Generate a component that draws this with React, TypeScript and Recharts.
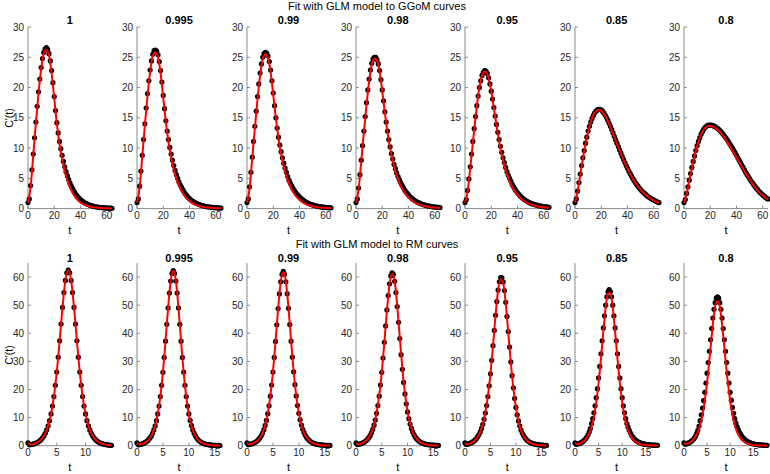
import React from 'react';
import { ComposedChart, Line, XAxis, YAxis } from 'recharts';

// ---------- labels ----------
const panelTitles = ['1', '0.995', '0.99', '0.98', '0.95', '0.85', '0.8'];
const topSuptitle = 'Fit with GLM model to GGoM curves';
const botSuptitle = 'Fit with GLM model to RM curves';
const yLabel = "C'(t)";
const xLabel = 't';
const topYTicks = [0, 5, 10, 15, 20, 25, 30];
const topXTicks = [0, 20, 40, 60];
const botYTicks = [0, 10, 20, 30, 40, 50, 60];
const botXTicksFirst = [0, 5, 10];
const botXTicks = [0, 5, 10, 15];
const botXMax = [14.6, 16.2, 16.2, 16.3, 16.5, 17.8, 18.2];

// ---------- time grids ----------
const tTop = [0,1,2,3,4,5,6,7,8,9,10,11,12,13,14,15,16,17,18,19,20,21,22,23,24,25,26,27,28,29,30,31,32,33,34,35,36,37,38,39,40,41,42,43,44,45,46,47,48,49,50,51,52,53,54,55,56,57,58,59,60,61,62,63,64];
const tTopFit = [0,2,4,6,8,10,12,14,16,18,20,22,24,26,28,30,32,34,36,38,40,42,44,46,48,50,52,54,56,58,60,62,64];
const tBot = [0,0.25,0.5,0.75,1,1.25,1.5,1.75,2,2.25,2.5,2.75,3,3.25,3.5,3.75,4,4.25,4.5,4.75,5,5.25,5.5,5.75,6,6.25,6.5,6.75,7,7.25,7.5,7.75,8,8.25,8.5,8.75,9,9.25,9.5,9.75,10,10.25,10.5,10.75,11,11.25,11.5,11.75,12,12.25,12.5,12.75,13,13.25,13.5,13.75,14,14.25,14.5,14.75,15,15.25,15.5,15.75,16,16.25,16.5,16.75,17,17.25,17.5,17.75,18];
const tBotFit = [0,0.5,1,1.5,2,2.5,3,3.5,4,4.5,5,5.5,6,6.5,7,7.5,8,8.5,9,9.5,10,10.5,11,11.5,12,12.5,13,13.5,14,14.5,15,15.5,16,16.5,17,17.5,18];

// ---------- top row (GGoM curves) ----------
const topDots1 = [1.0,1.6,3.8,6.4,9.0,11.7,14.3,16.9,19.3,21.4,23.3,24.8,25.8,26.4,26.6,26.3,25.6,24.4,22.8,20.8,18.5,16.2,14.2,12.5,11.1,9.9,8.8,7.8,6.9,6.1,5.4,4.8,4.2,3.7,3.3,2.9,2.5,2.2,1.95,1.7,1.5,1.3,1.15,1.0,0.88,0.77,0.67,0.58,0.5,0.44,0.38,0.33,0.29,0.25,0.22,0.19,0.17,0.15,0.13,0.11,0.1,0.09,0.08,0.07,0.06];
const topDots2 = [1.0,1.6,3.7,6.2,8.8,11.4,14.0,16.6,19.0,21.1,22.9,24.4,25.5,26.1,26.2,26.0,25.4,24.3,22.8,20.9,18.7,16.5,14.5,12.8,11.4,10.1,9.0,8.0,7.1,6.3,5.6,5.0,4.4,3.9,3.5,3.1,2.7,2.4,2.1,1.85,1.65,1.45,1.3,1.15,1.0,0.9,0.8,0.7,0.62,0.55,0.48,0.43,0.38,0.33,0.29,0.26,0.23,0.2,0.18,0.16,0.14,0.12,0.11,0.1,0.09];
const topDots3 = [1.0,1.6,3.6,6.0,8.5,11.1,13.6,16.1,18.5,20.6,22.4,23.9,25.0,25.6,25.8,25.7,25.2,24.3,22.9,21.1,19.1,17.0,15.0,13.3,11.8,10.5,9.4,8.4,7.5,6.7,6.0,5.3,4.7,4.2,3.8,3.4,3.0,2.7,2.4,2.15,1.9,1.7,1.52,1.36,1.2,1.07,0.96,0.85,0.76,0.68,0.6,0.54,0.48,0.43,0.38,0.34,0.3,0.27,0.24,0.21,0.19,0.17,0.15,0.14,0.12];
const topDots4 = [1.0,1.6,3.4,5.6,8.0,10.4,12.8,15.2,17.5,19.6,21.4,22.9,24.0,24.7,25.0,25.0,24.6,23.9,22.8,21.3,19.6,17.8,16.0,14.3,12.8,11.4,10.2,9.1,8.2,7.3,6.6,5.9,5.3,4.8,4.3,3.9,3.5,3.1,2.8,2.5,2.25,2.0,1.8,1.62,1.45,1.3,1.17,1.05,0.94,0.85,0.76,0.68,0.61,0.55,0.49,0.44,0.4,0.36,0.32,0.29,0.26,0.23,0.21,0.19,0.17];
const topDots5 = [1.0,1.5,3.0,4.9,6.9,9.0,11.1,13.2,15.2,17.0,18.6,20.0,21.1,22.0,22.5,22.8,22.7,22.3,21.6,20.6,19.4,18.1,16.7,15.3,13.9,12.6,11.4,10.3,9.3,8.4,7.6,6.8,6.1,5.5,5.0,4.5,4.0,3.6,3.25,2.9,2.6,2.35,2.1,1.9,1.7,1.53,1.38,1.24,1.12,1.0,0.9,0.81,0.73,0.66,0.6,0.54,0.49,0.44,0.4,0.36,0.33,0.3,0.27,0.25,0.22];
const topDots6 = [1.0,1.6,2.9,4.3,5.7,7.1,8.4,9.6,10.8,11.8,12.8,13.6,14.3,14.9,15.4,15.8,16.1,16.3,16.4,16.4,16.3,16.1,15.8,15.45,15.05,14.6,14.1,13.6,13.05,12.5,11.9,11.35,10.8,10.25,9.7,9.15,8.6,8.1,7.6,7.1,6.65,6.2,5.8,5.4,5.0,4.65,4.3,4.0,3.7,3.4,3.15,2.9,2.7,2.5,2.3,2.1,1.95,1.8,1.65,1.52,1.4,1.29,1.18,1.09,1.0];
const topDots7 = [1.0,1.5,2.5,3.6,4.7,5.8,6.8,7.8,8.7,9.6,10.4,11.1,11.7,12.3,12.7,13.1,13.4,13.6,13.75,13.8,13.8,13.78,13.72,13.62,13.5,13.35,13.17,12.97,12.75,12.5,12.23,11.95,11.65,11.33,11.0,10.66,10.3,9.95,9.58,9.2,8.8,8.4,8.0,7.6,7.2,6.8,6.4,6.0,5.65,5.3,4.95,4.6,4.3,4.0,3.7,3.42,3.16,2.9,2.67,2.45,2.25,2.06,1.88,1.72,1.57];

const topFit1 = [1.0,3.6,8.8,14.1,19.0,23.0,25.6,26.2,25.3,22.4,18.2,14.0,10.7,8.2,6.2,4.7,3.5,2.6,1.9,1.4,1.0,0.75,0.55,0.4,0.3,0.22,0.16,0.12,0.09,0.07,0.05,0.04,0.03];
const topFit2 = [1.0,3.5,8.6,13.8,18.6,22.6,25.2,25.8,25.0,22.3,18.3,14.3,11.0,8.5,6.5,5.0,3.8,2.9,2.2,1.65,1.25,0.95,0.7,0.53,0.4,0.3,0.23,0.17,0.13,0.1,0.08,0.06,0.05];
const topFit3 = [1.0,3.4,8.3,13.3,18.0,22.0,24.7,25.5,24.9,22.5,18.8,14.9,11.6,9.0,7.0,5.4,4.2,3.2,2.5,1.9,1.45,1.1,0.85,0.65,0.5,0.38,0.29,0.22,0.17,0.13,0.1,0.08,0.06];
const topFit4 = [1.0,3.2,7.8,12.6,17.1,21.0,23.8,24.8,24.5,22.6,19.4,15.8,12.6,10.0,7.9,6.2,4.9,3.8,3.0,2.35,1.85,1.45,1.13,0.88,0.69,0.54,0.42,0.33,0.26,0.2,0.16,0.12,0.1];
const topFit5 = [1.0,2.8,6.7,10.9,15.0,18.6,21.2,22.5,22.6,21.5,19.4,16.6,13.7,11.1,8.9,7.1,5.7,4.5,3.6,2.85,2.25,1.8,1.42,1.12,0.89,0.7,0.56,0.44,0.35,0.28,0.22,0.17,0.14];
const topFit6 = [1.0,2.8,5.6,8.3,10.7,12.7,14.3,15.5,16.1,16.3,16.1,15.6,14.9,14.0,12.9,11.8,10.7,9.6,8.5,7.5,6.6,5.7,4.95,4.25,3.65,3.1,2.65,2.25,1.9,1.6,1.35,1.13,0.95];
const topFit7 = [1.0,2.4,4.6,6.7,8.6,10.3,11.7,12.7,13.3,13.6,13.65,13.55,13.3,12.95,12.5,11.95,11.3,10.6,9.9,9.2,8.45,7.7,6.95,6.2,5.5,4.8,4.15,3.55,3.0,2.55,2.15,1.8,1.5];

// ---------- bottom row (RM curves) ----------
const botDots1 = [1.0,0.29,0.38,0.48,0.62,0.8,1.02,1.31,1.66,2.13,2.72,3.46,4.4,5.6,7.1,8.9,11.3,14.1,17.5,21.5,26.2,31.5,37.3,43.3,49.2,54.5,58.8,61.5,62.5,61.5,58.8,54.5,49.2,43.3,37.3,31.5,26.2,21.5,17.5,14.1,11.3,8.9,7.1,5.6,4.4,3.46,2.72,2.13,1.66,1.31,1.02,0.8,0.62,0.48,0.38,0.29,0.23,0.18,0.14];
const botDots2 = [1.0,0.32,0.41,0.52,0.66,0.84,1.06,1.35,1.7,2.16,2.75,3.48,4.4,5.6,7.1,8.9,11.3,14.1,17.5,21.5,26.1,31.4,37.2,43.2,49.0,54.3,58.6,61.3,62.3,61.3,58.6,54.3,49.0,43.2,37.2,31.4,26.2,21.5,17.5,14.1,11.3,9.0,7.2,5.7,4.5,3.55,2.8,2.2,1.75,1.38,1.09,0.86,0.68,0.54,0.43,0.35,0.28,0.23,0.19,0.16,0.13,0.11,0.09,0.08,0.07];
const botDots3 = [1.0,0.35,0.44,0.56,0.7,0.88,1.1,1.4,1.76,2.22,2.82,3.55,4.5,5.7,7.2,9.0,11.4,14.2,17.6,21.6,26.2,31.4,37.1,43.0,48.8,54.0,58.3,61.0,62.0,61.0,58.3,54.1,48.9,43.1,37.2,31.5,26.3,21.7,17.7,14.3,11.5,9.2,7.35,5.85,4.65,3.7,2.95,2.35,1.87,1.49,1.19,0.95,0.76,0.61,0.49,0.4,0.33,0.27,0.22,0.18,0.15,0.13,0.11,0.09,0.08];
const botDots4 = [1.0,0.38,0.48,0.6,0.75,0.94,1.17,1.47,1.84,2.3,2.9,3.65,4.6,5.8,7.3,9.1,11.5,14.3,17.6,21.6,26.1,31.2,36.8,42.6,48.3,53.4,57.6,60.4,61.5,61.0,58.5,54.5,49.5,43.9,38.1,32.4,27.2,22.5,18.4,14.9,12.0,9.6,7.7,6.15,4.9,3.92,3.13,2.5,2.0,1.6,1.29,1.04,0.84,0.68,0.55,0.45,0.37,0.3,0.25,0.21,0.17,0.14,0.12,0.1,0.09];
const botDots5 = [1.0,0.45,0.56,0.7,0.87,1.08,1.33,1.65,2.05,2.55,3.2,3.98,4.95,6.15,7.6,9.4,11.6,14.3,17.5,21.3,25.6,30.4,35.6,41.0,46.4,51.3,55.4,58.3,59.8,59.7,58.2,55.2,51.0,46.0,40.6,35.1,29.8,24.9,20.6,16.8,13.6,11.0,8.8,7.05,5.6,4.5,3.6,2.88,2.3,1.85,1.49,1.2,0.97,0.79,0.65,0.53,0.44,0.36,0.3,0.25,0.21,0.18,0.15,0.13,0.11];
const botDots6 = [1.0,0.5,0.6,0.72,0.87,1.06,1.3,1.6,2.0,2.5,3.1,3.9,4.9,6.1,7.9,9.6,11.7,14.2,17.1,20.3,24.1,28.2,32.7,37.3,41.9,46.2,50.0,53.0,54.8,55.5,54.8,53.0,50.0,46.2,41.9,37.3,32.7,28.2,24.1,20.3,17.1,14.2,11.7,9.6,7.9,6.6,5.45,4.5,3.72,3.08,2.55,2.12,1.77,1.48,1.24,1.04,0.88,0.75,0.64,0.55,0.47,0.41,0.36,0.31,0.27,0.24,0.21,0.19,0.17,0.15,0.13];
const botDots7 = [1.0,0.55,0.66,0.8,0.97,1.18,1.45,1.78,2.2,2.75,3.45,4.35,5.5,7.0,8.9,11.0,13.4,16.0,19.0,22.3,25.8,29.6,33.6,37.7,41.7,45.4,48.5,50.9,52.5,53.0,52.5,50.9,48.5,45.4,41.7,37.7,33.6,29.6,25.8,22.3,19.0,16.2,13.6,11.5,9.6,8.0,6.8,5.75,4.85,4.1,3.45,2.9,2.45,2.07,1.75,1.48,1.25,1.06,0.9,0.77,0.66,0.57,0.49,0.42,0.36,0.31,0.27,0.24,0.21,0.18,0.16,0.14,0.12];

const botFit1 = [1.0,0.38,0.62,1.02,1.66,2.72,4.4,7.1,11.3,17.5,26.2,37.3,49.2,58.8,62.5,58.8,49.2,37.3,26.2,17.5,11.3,7.1,4.4,2.72,1.66,1.02,0.62,0.38,0.23,0.14];
const botFit2 = [1.0,0.4,0.64,1.04,1.68,2.74,4.4,7.1,11.3,17.5,26.1,37.2,49.0,58.6,62.3,58.6,49.0,37.2,26.1,17.4,11.2,7.1,4.4,2.74,1.68,1.03,0.63,0.39,0.24,0.15,0.09,0.06,0.04];
const botFit3 = [1.0,0.42,0.67,1.08,1.74,2.8,4.5,7.2,11.4,17.6,26.2,37.1,48.7,58.2,61.8,58.4,49.0,37.4,26.4,17.7,11.5,7.3,4.6,2.85,1.76,1.08,0.66,0.41,0.25,0.16,0.1,0.06,0.04];
const botFit4 = [1.0,0.45,0.72,1.15,1.84,2.95,4.7,7.4,11.6,17.7,26.0,36.6,48.0,57.4,61.2,58.6,49.8,38.4,27.4,18.6,12.2,7.8,4.95,3.1,1.93,1.2,0.74,0.46,0.28,0.17,0.11,0.07,0.04];
const botFit5 = [1.0,0.5,0.8,1.27,2.0,3.15,4.95,7.7,11.8,17.7,25.6,35.6,46.4,55.3,59.2,57.8,50.6,40.2,29.5,20.4,13.5,8.7,5.5,3.45,2.15,1.34,0.83,0.52,0.32,0.2,0.13,0.08,0.05];
const botFit6 = [1.0,0.48,0.75,1.18,1.83,2.86,4.43,6.8,10.3,15.4,22.3,31.0,40.5,49.1,54.3,54.3,49.1,40.5,31.0,22.3,15.4,10.3,6.8,4.43,2.86,1.83,1.18,0.75,0.48,0.3,0.19,0.12,0.08,0.05,0.03,0.02];
const botFit7 = [1.0,0.59,0.9,1.38,2.11,3.23,4.9,7.4,10.9,16.0,22.5,30.5,39.1,46.7,51.2,51.2,46.7,39.1,30.5,22.5,16.0,10.9,7.4,4.9,3.23,2.11,1.38,0.9,0.59,0.38,0.25,0.16,0.1,0.07,0.04,0.03,0.02];

const topDots = [topDots1, topDots2, topDots3, topDots4, topDots5, topDots6, topDots7];
const topFits = [topFit1, topFit2, topFit3, topFit4, topFit5, topFit6, topFit7];
const botDots = [botDots1, botDots2, botDots3, botDots4, botDots5, botDots6, botDots7];
const botFits = [botFit1, botFit2, botFit3, botFit4, botFit5, botFit6, botFit7];

const zip = (ts: number[], vs: number[]) => vs.map((v, i) => ({ t: ts[i], v }));

// ---------- layout ----------
const FONT = '"Liberation Sans", Arial, Helvetica, sans-serif';
const AX = '#8a8a8a';
const TXT = '#262626';
const PANEL_LEFT = [27.7, 137.1, 246.5, 355.8, 465.2, 574.6, 684.0];
const PLOT_W = 84;
const TOP_Y0 = 26.7;
const TOP_H = 181.6;
const BOT_Y0 = 263.3;
const BOT_H = 182.7;
const YW = 30;
const XH = 20;
const MT = 6;
const MR = 6;

const DotShape = (p: any) =>
  p.cx == null || p.cy == null ? <g key={p.key} /> : <circle key={p.key} cx={p.cx} cy={p.cy} r={2.6} fill="#000" stroke="none" />;

function Panel(props: {
  left: number; top: number; plotH: number; xMax: number; xTicks: number[];
  yMax: number; yTicks: number[]; dots: any[]; fit: any[];
}) {
  const { left, top, plotH, xMax, xTicks, yMax, yTicks, dots, fit } = props;
  const W = YW + PLOT_W + MR;
  const H = MT + plotH + XH;
  const box: React.CSSProperties = { position: 'absolute', left: left - YW, top: top - MT, width: W, height: H };
  return (
    <>
      <div style={box}>
        <ComposedChart width={W} height={H} margin={{ top: MT, right: MR, bottom: 0, left: 0 }}>
          <XAxis xAxisId="b" type="number" dataKey="t" domain={[0, xMax]} ticks={xTicks} interval={0}
            height={XH} stroke={AX} tickSize={-3} tickMargin={6}
            tick={{ fontSize: 10, fill: TXT, fontFamily: FONT }} />
          <XAxis xAxisId="tp" orientation="top" type="number" dataKey="t" domain={[0, xMax]} ticks={xTicks}
            interval={0} height={0} stroke={AX} tickSize={-3} tick={false} />
          <YAxis yAxisId="l" type="number" domain={[0, yMax]} ticks={yTicks} interval={0}
            width={YW} stroke={AX} tickSize={-3} tickMargin={7}
            tick={{ fontSize: 10, fill: TXT, fontFamily: FONT }} />
          <YAxis yAxisId="r" orientation="right" type="number" domain={[0, yMax]} ticks={yTicks}
            interval={0} width={0} stroke={AX} tickSize={-3} tick={false} />
          <Line xAxisId="b" yAxisId="l" data={dots} dataKey="v" stroke="none" strokeWidth={0}
            dot={DotShape} activeDot={false} isAnimationActive={false} />
        </ComposedChart>
      </div>
      <div style={box}>
        <ComposedChart width={W} height={H} margin={{ top: MT, right: MR, bottom: XH, left: YW }}>
          <XAxis xAxisId="b" type="number" dataKey="t" domain={[0, xMax]} hide />
          <YAxis yAxisId="l" type="number" domain={[0, yMax]} hide />
          <Line xAxisId="b" yAxisId="l" data={fit} dataKey="v" type="monotone" stroke="#ff0000"
            strokeWidth={2} dot={false} activeDot={false} isAnimationActive={false} />
        </ComposedChart>
      </div>
    </>
  );
}

const textStyle = (x: number, y: number, size: number, bold = false): React.CSSProperties => ({
  position: 'absolute', left: x, top: y, transform: 'translate(-50%, -50%)',
  fontSize: size, fontWeight: bold ? 'bold' : 'normal', color: '#000', fontFamily: FONT,
  whiteSpace: 'nowrap', lineHeight: 1,
});

export default function App() {
  return (
    <div style={{ position: 'absolute', left: 0, top: 0, width: 770, height: 474, background: '#fff', fontFamily: FONT, overflow: 'hidden' }}>
      <div style={textStyle(377, 6, 11)}>{topSuptitle}</div>
      <div style={textStyle(377, 244, 11)}>{botSuptitle}</div>
      {panelTitles.map((tt, i) => (
        <React.Fragment key={'t' + i}>
          <div style={textStyle(PANEL_LEFT[i] + PLOT_W / 2, 19.5, 11, true)}>{tt}</div>
          <div style={textStyle(PANEL_LEFT[i] + PLOT_W / 2, 257.5, 11, true)}>{tt}</div>
          <div style={textStyle(PANEL_LEFT[i] + PLOT_W / 2, 230, 11)}>{xLabel}</div>
          <div style={textStyle(PANEL_LEFT[i] + PLOT_W / 2, 467, 11)}>{xLabel}</div>
        </React.Fragment>
      ))}
      <div style={{ ...textStyle(9, TOP_Y0 + TOP_H / 2, 10.5), transform: 'translate(-50%, -50%) rotate(-90deg)' }}>{yLabel}</div>
      <div style={{ ...textStyle(9, BOT_Y0 + BOT_H / 2, 10.5), transform: 'translate(-50%, -50%) rotate(-90deg)' }}>{yLabel}</div>
      {panelTitles.map((_, i) => (
        <Panel key={'top' + i} left={PANEL_LEFT[i]} top={TOP_Y0} plotH={TOP_H} xMax={64} xTicks={topXTicks}
          yMax={30} yTicks={topYTicks} dots={zip(tTop, topDots[i])} fit={zip(tTopFit, topFits[i])} />
      ))}
      {panelTitles.map((_, i) => (
        <Panel key={'bot' + i} left={PANEL_LEFT[i]} top={BOT_Y0} plotH={BOT_H} xMax={botXMax[i]}
          xTicks={i === 0 ? botXTicksFirst : botXTicks}
          yMax={65} yTicks={botYTicks} dots={zip(tBot, botDots[i])} fit={zip(tBotFit, botFits[i])} />
      ))}
    </div>
  );
}
